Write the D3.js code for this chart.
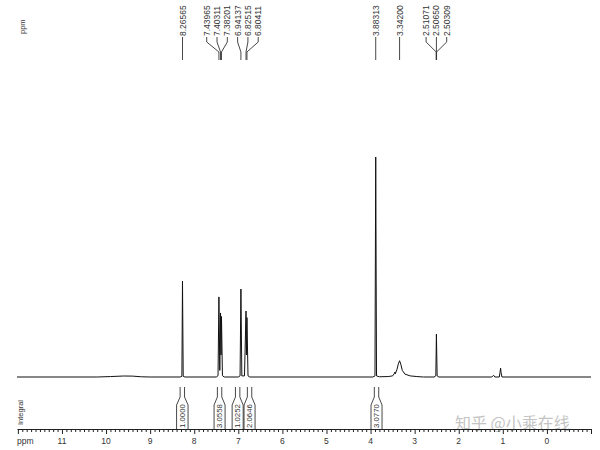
<!DOCTYPE html>
<html><head><meta charset="utf-8">
<script src="https://cdn.jsdelivr.net/npm/d3@7"></script>
<style>body{margin:0;background:#fff}svg{display:block}text{font-family:"Liberation Sans",Arial,sans-serif;fill:#333}</style>
</head><body><svg id="c" width="600" height="450"></svg>
<script>
// spectrum points [ppm, relative intensity]
const spectrumPpm = [12.02,10.2,9.9,9.6,9.4,9.2,9.0,
 8.32,8.28,8.266,8.25,8.21,
 7.50,7.46,7.44,7.42,7.403,7.392,7.382,7.36,7.32,
 7.00,6.96,6.941,6.92,6.86,6.825,6.815,6.804,6.78,6.74,
 3.95,3.90,3.883,3.865,3.8,3.6,3.5,3.46,3.45,3.44,3.40,3.37,3.342,3.31,3.28,3.22,3.1,2.95,2.8,
 2.56,2.52,2.5065,2.49,2.45,
 1.25,1.21,1.18,1.08,1.065,1.05,1.04,1.02,-1.0];
const spectrumInt = [0,0,0.2,0.45,0.4,0.1,0,
 0,0.3,43.6,0.3,0,
 0,0.6,36.4,3,29.1,10,27.5,0.6,0,
 0,0.5,40,0.5,0.5,30,10,27,0.5,0,
 0,0.5,100,0.5,0.1,0.2,0.5,1.6,2.2,1.4,3.5,6,7.4,5.5,3,1.3,0.5,0.2,0,
 0,0.5,19.5,0.5,0,
 0,0.8,0,0,2,4,2,0,0];
const peakLabels = ["8.26565","7.43965","7.40311","7.38201","6.94137","6.82515","6.80411","3.88313","3.34200","2.51071","2.50650","2.50309"];
const integralValues = ["1.0000","3.0558","1.0252","2.0646","3.0770"];
const integralFrom = [8.40,7.55,7.14,6.87,3.99];
const integralTo = [8.14,7.30,6.89,6.62,3.74];
const axisLabels = [11,10,9,8,7,6,5,4,3,2,1,0];

const svg = d3.select("#c");
const x = d3.scaleLinear().domain([12.02,-1.0]).range([17,591]);
const y = d3.scaleLinear().domain([0,100]).range([377,157]);

// spectrum
const pts = spectrumPpm.map((p,i)=>[p,spectrumInt[i]]);
svg.append("path").datum(pts)
  .attr("d", d3.line().x(d=>x(d[0])).y(d=>y(d[1])))
  .attr("fill","none").attr("stroke","#111").attr("stroke-width",1);

// peak labels with spreading
const labs = peakLabels.map(s=>({s, px:x(+s)})).sort((a,b)=>a.px-b.px);
const gap = 10.3;
let groups = labs.map(l=>({items:[l]}));
function pos(g){const m=d3.mean(g.items,d=>d.px);const n=g.items.length;return {start:m-(n-1)/2*gap,end:m+(n-1)/2*gap};}
let changed=true;
while(changed){changed=false;
  for(let i=0;i<groups.length-1;i++){
    if(pos(groups[i+1]).start-pos(groups[i]).end<gap){
      groups[i].items=groups[i].items.concat(groups[i+1].items);groups.splice(i+1,1);changed=true;break;}
  }}
groups.forEach(g=>{const p=pos(g);g.items.forEach((d,i)=>d.lx=p.start+i*gap);});
const pl = svg.append("g");
labs.forEach(d=>{
  pl.append("text").attr("transform",`translate(${d.lx+3},36) rotate(-90)`)
    .attr("font-size","8.5px").text(d.s);
  pl.append("path").attr("d",`M${d.lx},37 L${d.lx},42 L${d.px},52 L${d.px},60`)
    .attr("fill","none").attr("stroke","#333").attr("stroke-width",0.9);
});
svg.append("text").attr("transform","translate(25,34) rotate(-90)").attr("font-size","7.5px").text("ppm");

// integrals
integralValues.forEach((v,i)=>{
  const x1=x(integralFrom[i]), x2=x(integralTo[i]), xc=(x1+x2)/2;
  svg.append("path").attr("d",`M${x1},429 L${x1},405 L${xc-2.2},397 L${xc-2.2},387 M${xc+2.2},387 L${xc+2.2},397 L${x2},405 L${x2},429`)
    .attr("fill","none").attr("stroke","#333").attr("stroke-width",0.9);
  svg.append("text").attr("transform",`translate(${xc+2.8},428) rotate(-90)`)
    .attr("font-size","7.8px").text(v);
});
svg.append("text").attr("transform","translate(23,425) rotate(-90)").attr("font-size","7.5px").text("Integral");

// watermark
svg.append("text").attr("x",455).attr("y",429).attr("font-size","16px")
  .style("font-family","'Noto Sans CJK SC',sans-serif").style("fill","#c4c4c4").text("知乎 @小乘在线");

// axis
const tv = d3.range(-10,121).map(i=>i/10);
const ax = svg.append("g").attr("transform","translate(0,429)")
  .call(d3.axisBottom(x).tickValues(tv).tickSize(3).tickSizeOuter(0).tickFormat(""));
ax.select(".domain").attr("stroke","#222");
ax.selectAll(".tick line").attr("stroke","#222").attr("y2",d=>Math.abs(d-Math.round(d))<1e-6?5:3);
axisLabels.forEach(v=>{
  svg.append("text").attr("x",x(v)).attr("y",444).attr("text-anchor","middle").attr("font-size","8.5px").text(v);
});
svg.append("text").attr("x",17).attr("y",444).attr("font-size","8.5px").text("ppm");
</script></body></html>
